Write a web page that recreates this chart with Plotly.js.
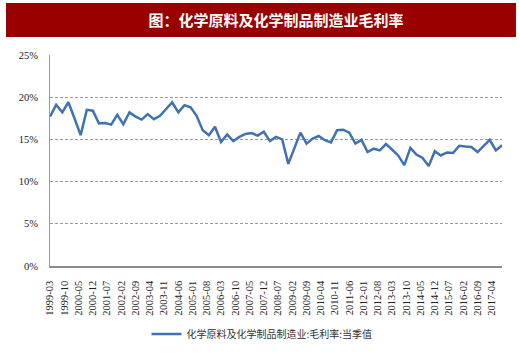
<!DOCTYPE html>
<html>
<head>
<meta charset="utf-8">
<script src="https://cdn.plot.ly/plotly-3.0.1.min.js"></script>
<style>
  html, body { margin: 0; padding: 0; background: #fff; }
  #chart { width: 520px; height: 355px; }
</style>
</head>
<body>
<div id="chart"></div>
<script>
// Chart title and series name
const chartTitle = "图：化学原料及化学制品制造业毛利率";
const seriesName = "化学原料及化学制品制造业:毛利率:当季值";

// First quarter of the series
const startYear = 1999;
const startMonth = 3;

// Gross margin (%), quarterly
const grossMargin = [
  17.7, 19.1, 18.2, 19.4, 17.5, 15.5, 18.5, 18.4, 16.9, 16.95,
  16.75, 17.9, 16.8, 18.2, 17.7, 17.35, 18.0, 17.4, 17.8, 18.6,
  19.4, 18.2, 19.05, 18.8, 17.8, 16.1, 15.5, 16.5, 14.7, 15.6,
  14.8, 15.3, 15.65, 15.75, 15.45, 15.9, 14.8, 15.3, 15.0, 12.1,
  14.0, 15.8, 14.5, 15.1, 15.4, 14.9, 14.65, 16.1, 16.15, 15.8,
  14.5, 14.95, 13.5, 13.9, 13.7, 14.45, 13.8, 13.1, 11.95, 14.0,
  13.2, 12.8, 11.85, 13.6, 13.1, 13.45, 13.4, 14.25, 14.15, 14.1,
  13.5, 14.2, 14.95, 13.7, 14.3
];

// X tick labels
const tickLabels = [
  "1999-03","1999-10","2000-05","2000-12","2001-07","2002-02","2002-09","2003-04",
  "2003-11","2004-06","2005-01","2005-08","2006-03","2006-10","2007-05","2007-12",
  "2008-07","2009-02","2009-09","2010-04","2010-11","2011-06","2012-01","2012-08",
  "2013-03","2013-10","2014-05","2014-12","2015-07","2016-02","2016-09","2017-04"
];

// Y tick values (%)
const yTicks = [0, 5, 10, 15, 20, 25];

// Quarter dates for each observation
const quarterDates = grossMargin.map((_, i) => {
  const m0 = (startMonth - 1) + 3 * i;
  const y = startYear + Math.floor(m0 / 12);
  const m = (m0 % 12) + 1;
  return y + "-" + String(m).padStart(2, "0") + "-01";
});
const tickDates = tickLabels.map(s => s + "-01");

// Pixel geometry -> paper coords
const W = 520, H = 355;
const mL = 50, mR = 18, mT = 55, mB = 89;
const pw = W - mL - mR, ph = H - mT - mB;
const px = x => (x - mL) / pw;
const py = y => (H - mB - y) / ph;

const serif = "Liberation Serif";
const cjk = "Noto Sans CJK SC";

const trace = {
  x: quarterDates,
  y: grossMargin,
  type: "scatter",
  mode: "lines",
  name: seriesName,
  line: { color: "#3f72b5", width: 2.5 },
  hoverinfo: "skip"
};

const layout = {
  width: W, height: H,
  margin: { l: mL, r: mR, t: mT, b: mB, pad: 0, autoexpand: false },
  paper_bgcolor: "#ffffff",
  plot_bgcolor: "#ffffff",
  showlegend: true,
  title: {
    text: "<b>" + chartTitle + "</b>",
    font: { family: cjk, size: 15, color: "#ffffff" },
    x: 0.5, xref: "paper", xanchor: "center",
    y: 1 - 20.5 / H, yref: "container", yanchor: "middle"
  },
  shapes: [{
    type: "rect", xref: "paper", yref: "paper", layer: "below",
    x0: px(6), x1: px(516), y0: py(37), y1: py(3),
    fillcolor: "#990000", line: { width: 0 }
  }],
  xaxis: {
    type: "date",
    range: [quarterDates[0], quarterDates[quarterDates.length - 1]],
    tickmode: "array",
    tickvals: tickDates,
    ticktext: tickLabels,
    tickangle: -90,
    tickfont: { family: serif, size: 10.5, color: "#222" },
    ticks: "",
    ticklabelstandoff: 9,
    showgrid: false,
    zeroline: false,
    showline: true,
    linecolor: "#8c8c8c",
    linewidth: 1.5,
    automargin: false,
    fixedrange: true
  },
  yaxis: {
    range: [0, 25],
    tickmode: "array",
    tickvals: yTicks,
    ticktext: yTicks.map(v => v + "%"),
    tickfont: { family: serif, size: 10.5, color: "#222" },
    ticks: "",
    ticklabelstandoff: 9,
    showgrid: true,
    gridcolor: "#9a9a9a",
    gridwidth: 1,
    griddash: "3px,2px",
    zeroline: false,
    showline: true,
    linecolor: "#9a9a9a",
    linewidth: 1,
    automargin: false,
    fixedrange: true
  },
  legend: {
    orientation: "h",
    xref: "container", yref: "container",
    x: 262 / W, xanchor: "center",
    y: 1 - 334 / H, yanchor: "middle",
    font: { family: cjk, size: 10, color: "#333" },
    itemwidth: 30,
    bgcolor: "rgba(0,0,0,0)"
  }
};

Plotly.newPlot("chart", [trace], layout, { displayModeBar: false, staticPlot: true });
</script>
</body>
</html>
